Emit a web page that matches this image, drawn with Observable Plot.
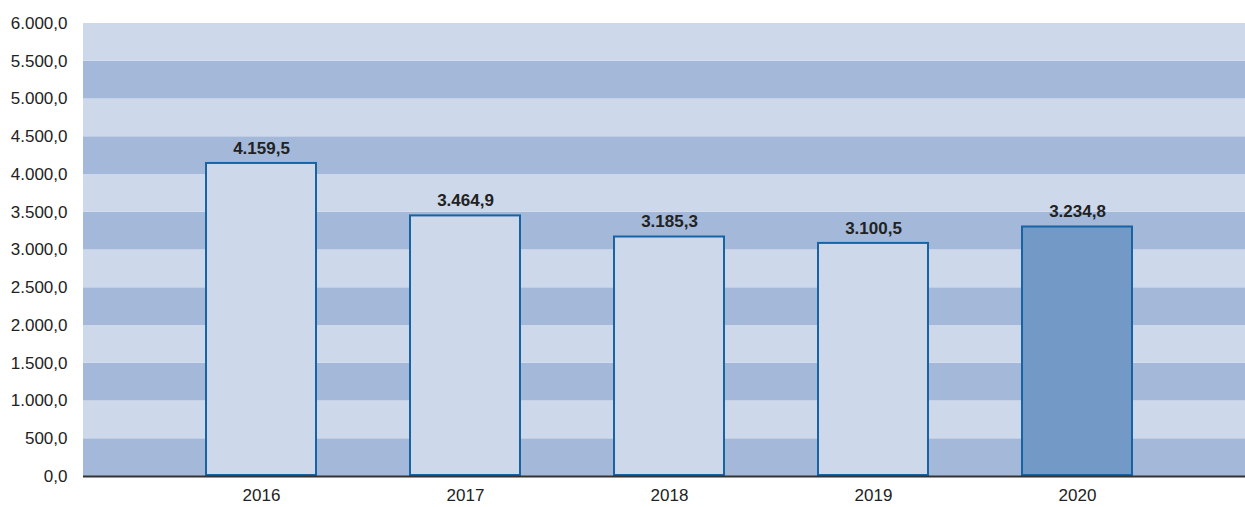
<!DOCTYPE html>
<html>
<head>
<meta charset="utf-8">
<script src="https://cdn.jsdelivr.net/npm/d3@7"></script>
<script src="https://cdn.jsdelivr.net/npm/@observablehq/plot@0.6"></script>
<style>
  html, body { margin: 0; padding: 0; background: #fff; }
  svg { display: block; }
</style>
</head>
<body>
<div id="chart"></div>
<script>
const years = ["2016", "2017", "2018", "2019", "2020"];
const barValues = [4159.5, 3464.9, 3185.3, 3100.5, 3318];
const labelValues = [4159.5, 3464.9, 3185.3, 3100.5, 3234.8];
const highlightYear = "2020";
const yTicks = [0, 500, 1000, 1500, 2000, 2500, 3000, 3500, 4000, 4500, 5000, 5500, 6000];

const locale = d3.formatLocale({decimal: ",", thousands: ".", grouping: [3], currency: ["", ""]});
const fmt = locale.format(",.1f");

const data = years.map((y, i) => ({year: y, value: barValues[i], label: fmt(labelValues[i])}));
const bands = yTicks.slice(0, -1).map((v, i) => ({y1: v, y2: yTicks[i + 1], dark: i % 2 === 0}));

const chart = Plot.plot({
  width: 1245,
  height: 507,
  marginLeft: 83,
  marginRight: 0,
  marginTop: 23,
  marginBottom: 31,
  style: {fontFamily: "'Liberation Sans', Arial, sans-serif", fontSize: "16px", color: "#222", background: "#fff"},
  x: {domain: years, paddingInner: 0.45, paddingOuter: 0.573, align: 0.52, label: null},
  y: {domain: [0, 6000], label: null},
  marks: [
    Plot.rect(bands, {y1: "y1", y2: "y2", fill: d => d.dark ? "#a4b9da" : "#cdd8ea"}),
    Plot.barY(data, {x: "year", y: "value", fill: d => d.year === highlightYear ? "#7399c6" : "#cdd8ea", stroke: "#1763a3", strokeWidth: 2, inset: 1}),
    Plot.text(data, {x: "year", y: "value", text: "label", dy: -14, fontWeight: "bold", fontSize: 17, fill: "#222"}),
    Plot.ruleY([0], {stroke: "#333", strokeWidth: 2}),
    Plot.axisY({ticks: yTicks, tickFormat: fmt, tickSize: 0, tickPadding: 16, fontSize: 17, label: null}),
    Plot.axisX({tickSize: 0, tickPadding: 12, fontSize: 17, label: null})
  ]
});
document.getElementById("chart").appendChild(chart);
</script>
</body>
</html>
